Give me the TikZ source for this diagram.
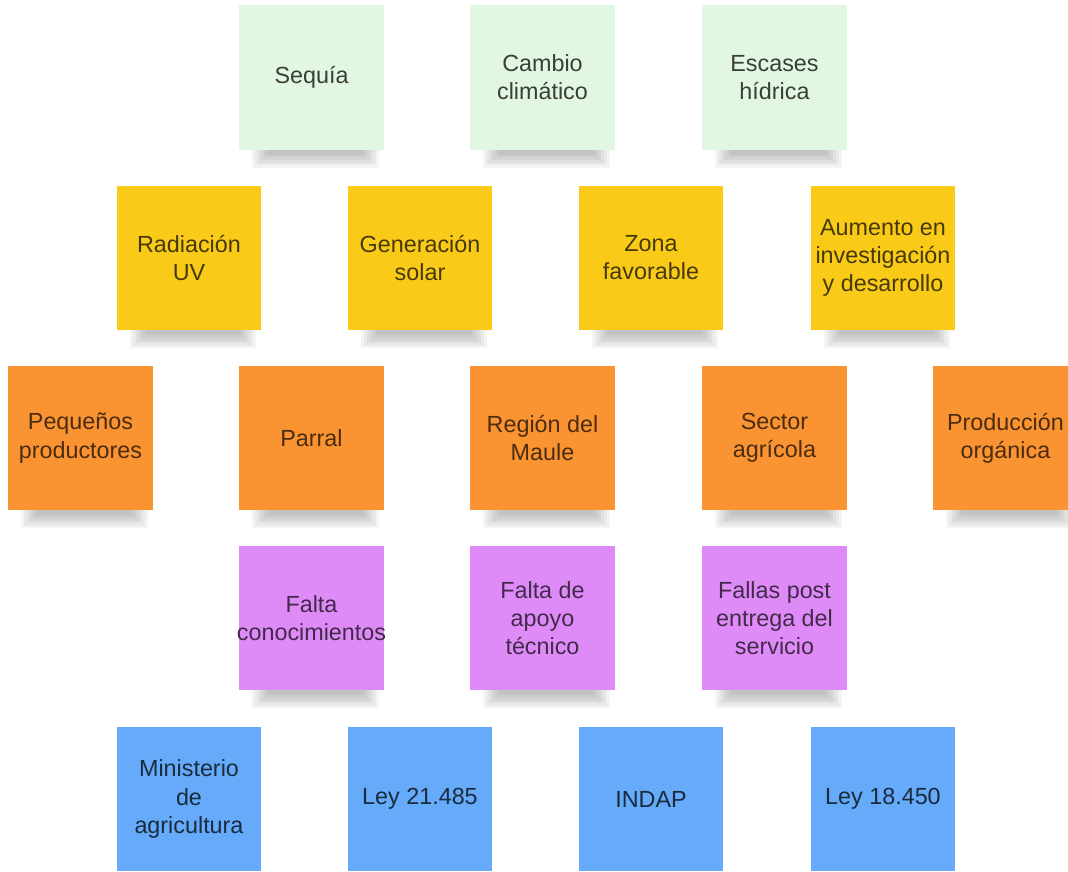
\documentclass[tikz,border=0pt]{standalone}
\usepackage{fontspec}
\setmainfont{Liberation Sans}
\usetikzlibrary{calc,backgrounds}

\definecolor{notegreen}{HTML}{E2F7E2}
\definecolor{noteyellow}{HTML}{F9CB18}
\definecolor{noteorange}{HTML}{FA9432}
\definecolor{notepurple}{HTML}{DE8AF7}
\definecolor{noteblue}{HTML}{66AAFA}

\begin{document}
\begin{tikzpicture}[x=0.025cm, y=-0.025cm,
    note/.style={rectangle, minimum size=3.6cm, inner sep=0pt, align=center,
      font=\fontsize{16.6}{20}\selectfont},
    greennote/.style={note, fill=notegreen, text=notegreen!25!black},
    yellownote/.style={note, fill=noteyellow, text=noteyellow!28!black},
    orangenote/.style={note, fill=noteorange, text=noteorange!30!black},
    purplenote/.style={note, fill=notepurple, text=notepurple!30!black},
    bluenote/.style={note, fill=noteblue, text=noteblue!25!black}]
  \useasboundingbox (0,0) rectangle (1068,871);

  % first row
  \node[greennote] (sequia) at (311.5,77.5) {Sequía};
  \node[greennote] (cambio) at (542.5,77.5) {Cambio\\climático};
  \node[greennote] (escases) at (774.5,77.5) {Escases\\hídrica};

  % second row
  \node[yellownote] (radiacion) at (189,258) {Radiación\\UV};
  \node[yellownote] (generacion) at (420,258) {Generación\\solar};
  \node[yellownote] (zona) at (651,258) {Zona\\favorable};
  \node[yellownote] (aumento) at (883,258) {Aumento en\\investigación\\y desarrollo};

  % third row
  \node[orangenote] (pequenos) at (80.5,438) {Pequeños\\productores};
  \node[orangenote] (parral) at (311.5,438) {Parral};
  \node[orangenote] (region) at (542.5,438) {Región del\\Maule};
  \node[orangenote] (sector) at (774.5,438) {Sector\\agrícola};
  \node[orangenote] (produccion) at (1005.5,438) {Producción\\orgánica};

  % fourth row
  \node[purplenote] (conocimientos) at (311.5,618) {Falta\\\makebox[0pt]{conocimientos}};
  \node[purplenote] (apoyo) at (542.5,618) {Falta de\\apoyo\\técnico};
  \node[purplenote] (fallas) at (774.5,618) {Fallas post\\entrega del\\servicio};

  % fifth row
  \node[bluenote] (ministerio) at (189,799) {Ministerio\\de\\agricultura};
  \node[bluenote] (ley21) at (420,799) {Ley 21.485};
  \node[bluenote] (indap) at (651,799) {INDAP};
  \node[bluenote] (ley18) at (883,799) {Ley 18.450};

  % soft shadows under the notes
  \begin{scope}[on background layer]
    \foreach \n in {sequia,cambio,escases,radiacion,generacion,zona,aumento,
        pequenos,parral,region,sector,produccion,conocimientos,apoyo,fallas}
      \foreach \k in {0,...,5}
        \fill[black, opacity=0.045]
          ($(\n.south west)+(13+3*\k,-20)$) rectangle ($(\n.south east)+(-5-3*\k,18-2.6*\k)$);
  \end{scope}
\end{tikzpicture}
\end{document}
